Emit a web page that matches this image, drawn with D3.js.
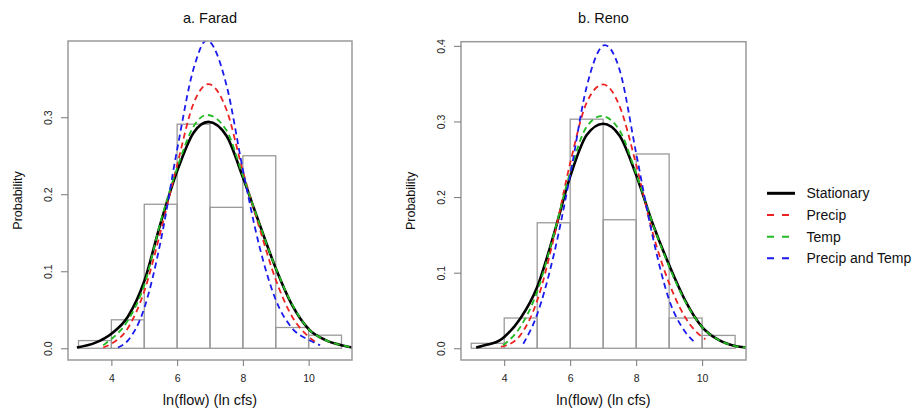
<!DOCTYPE html>
<html>
<head>
<meta charset="utf-8">
<script src="https://cdn.jsdelivr.net/npm/d3@7"></script>
<style>
  html, body { margin: 0; padding: 0; background: #fff; }
  svg { display: block; font-family: "Liberation Sans", Arial, Helvetica, sans-serif; }
</style>
</head>
<body>
<svg id="chart" width="918" height="410"></svg>
<script>
// ---------------- DATA ----------------
const binEdges = [3, 4, 5, 6, 7, 8, 9, 10, 11];
const xTicks = [4, 6, 8, 10];
const yTicksFarad = [0, 0.1, 0.2, 0.3];
const yTicksReno = [0, 0.1, 0.2, 0.3, 0.4];

const faradHist = [0.010, 0.037, 0.187, 0.291, 0.183, 0.250, 0.027, 0.017];
const renoHist  = [0.0066, 0.040, 0.166, 0.303, 0.170, 0.257, 0.040, 0.017];

// Farad curves (x, density)
const faradStationaryX = [2.95, 3.5, 4, 4.5, 5, 5.5, 6, 6.5, 6.95, 7.5, 8, 8.5, 9, 9.5, 10, 10.5, 11, 11.32];
const faradStationaryY = [0.001, 0.007, 0.019, 0.041, 0.087, 0.163, 0.230, 0.280, 0.294, 0.276, 0.222, 0.162, 0.104, 0.056, 0.025, 0.011, 0.004, 0.001];
const faradPrecipX = [3.75, 4, 4.5, 5, 5.5, 6, 6.5, 6.95, 7.5, 8, 8.5, 9, 9.5, 10, 10.25];
const faradPrecipY = [0.001, 0.006, 0.026, 0.074, 0.152, 0.238, 0.318, 0.343, 0.310, 0.230, 0.157, 0.089, 0.041, 0.015, 0.007];
const faradTempX = [3.75, 4, 4.5, 5, 5.5, 6, 6.5, 6.9, 7.5, 8, 8.5, 9, 9.5, 10, 10.5, 11, 11.32];
const faradTempY = [0.004, 0.012, 0.036, 0.082, 0.165, 0.234, 0.288, 0.303, 0.283, 0.224, 0.162, 0.104, 0.057, 0.025, 0.011, 0.004, 0.001];
const faradBothX = [4.2, 4.5, 5, 5.5, 6, 6.5, 6.9, 7.5, 8, 8.5, 9, 9.5, 10, 10.35];
const faradBothY = [0.001, 0.010, 0.052, 0.139, 0.258, 0.363, 0.400, 0.342, 0.232, 0.133, 0.063, 0.026, 0.011, 0.004];

// Reno curves
const renoStationaryX = [3.15, 3.5, 3.85, 4, 4.5, 5, 5.5, 6, 6.5, 7, 7.5, 8, 8.5, 9, 9.5, 10, 10.5, 11, 11.33];
const renoStationaryY = [0.001, 0.005, 0.010, 0.015, 0.040, 0.081, 0.150, 0.227, 0.282, 0.297, 0.281, 0.229, 0.165, 0.110, 0.062, 0.028, 0.011, 0.003, 0.001];
const renoPrecipX = [3.9, 4, 4.5, 5, 5.5, 6, 6.5, 7, 7.5, 8, 8.5, 9, 9.5, 10, 10.1];
const renoPrecipY = [0.002, 0.003, 0.018, 0.063, 0.145, 0.245, 0.325, 0.349, 0.320, 0.243, 0.153, 0.086, 0.040, 0.015, 0.012];
const renoTempX = [3.97, 4.5, 5, 5.5, 6, 6.5, 6.95, 7.5, 8, 8.5, 9, 9.5, 10, 10.5, 11, 11.33];
const renoTempY = [0.004, 0.029, 0.075, 0.150, 0.233, 0.293, 0.307, 0.288, 0.231, 0.165, 0.108, 0.061, 0.028, 0.011, 0.003, 0.001];
const renoBothX = [4.58, 5, 5.5, 6, 6.5, 7.05, 7.5, 8, 8.5, 9, 9.5, 9.8];
const renoBothY = [0.006, 0.045, 0.123, 0.229, 0.346, 0.401, 0.368, 0.258, 0.148, 0.064, 0.021, 0.007];

const seriesNames = ["Stationary", "Precip", "Temp", "Precip and Temp"];
const seriesColors = ["#000000", "#ee2222", "#22bb22", "#1a1aee"];

// ---------------- DRAW ----------------
const svg = d3.select("#chart");

const panels = [
  { id: "a", title: "a. Farad", box: [68, 352, 41, 360], xDom: [2.68, 11.32], yDom: [-0.0152, 0.399],
    yTicks: yTicksFarad, hist: faradHist,
    curves: [[faradStationaryX, faradStationaryY], [faradPrecipX, faradPrecipY], [faradTempX, faradTempY], [faradBothX, faradBothY]] },
  { id: "b", title: "b. Reno", box: [461, 746, 41.7, 360], xDom: [2.69, 11.33], yDom: [-0.0155, 0.4055],
    yTicks: yTicksReno, hist: renoHist,
    curves: [[renoStationaryX, renoStationaryY], [renoPrecipX, renoPrecipY], [renoTempX, renoTempY], [renoBothX, renoBothY]] }
];

const gray = "#9a9a9a";

panels.forEach(p => {
  const [L, R, T, B] = p.box;
  const x = d3.scaleLinear().domain(p.xDom).range([L, R]);
  const y = d3.scaleLinear().domain(p.yDom).range([B, T]);

  const clipId = "clip-" + p.id;
  svg.append("clipPath").attr("id", clipId)
    .append("rect").attr("x", L).attr("y", T).attr("width", R - L).attr("height", B - T);

  const g = svg.append("g");

  // histogram bars
  g.append("g").selectAll("rect")
    .data(p.hist)
    .join("rect")
    .attr("x", (d, i) => x(binEdges[i]))
    .attr("width", (d, i) => x(binEdges[i + 1]) - x(binEdges[i]))
    .attr("y", d => y(d))
    .attr("height", d => y(0) - y(d))
    .attr("fill", "none")
    .attr("stroke", gray)
    .attr("stroke-width", 1.3);

  // curves
  const line = d3.line().x(d => x(d[0])).y(d => y(d[1])).curve(d3.curveMonotoneX);
  const cg = g.append("g").attr("clip-path", `url(#${clipId})`);
  p.curves.forEach((c, i) => {
    cg.append("path")
      .datum(d3.zip(c[0], c[1]))
      .attr("d", line)
      .attr("fill", "none")
      .attr("stroke", seriesColors[i])
      .attr("stroke-width", i === 0 ? 2.6 : 1.8)
      .attr("stroke-dasharray", i === 0 ? null : "6,4");
  });

  // box
  g.append("rect").attr("x", L).attr("y", T).attr("width", R - L).attr("height", B - T)
    .attr("fill", "none").attr("stroke", gray).attr("stroke-width", 1.5);

  // x axis
  const xAxis = g.append("g").attr("transform", `translate(0,${B})`)
    .call(d3.axisBottom(x).tickValues(xTicks).tickSize(6).tickPadding(6).tickFormat(d3.format("d")));
  xAxis.select(".domain").remove();
  xAxis.selectAll(".tick line").attr("stroke", "#777");
  xAxis.selectAll(".tick text").attr("font-size", "10.5px").attr("fill", "#222")
    .attr("font-family", "Liberation Sans, Arial, sans-serif")
    .attr("dy", null).attr("y", 21.5);

  // y axis
  const yAxis = g.append("g").attr("transform", `translate(${L},0)`)
    .call(d3.axisLeft(y).tickValues(p.yTicks).tickSize(7).tickFormat(d3.format(".1f")));
  yAxis.select(".domain").remove();
  yAxis.selectAll(".tick line").attr("stroke", "#777");
  yAxis.selectAll(".tick text")
    .attr("font-size", "10.5px").attr("fill", "#222")
    .attr("font-family", "Liberation Sans, Arial, sans-serif")
    .attr("transform", "rotate(-90)")
    .attr("x", 0).attr("y", -20).attr("dy", null)
    .attr("text-anchor", "middle")
    .attr("dominant-baseline", "central");

  // title
  g.append("text").attr("x", (L + R) / 2).attr("y", 22.7)
    .attr("text-anchor", "middle").attr("font-size", "14.5px").attr("fill", "#111")
    .text(p.title);

  // x label
  g.append("text").attr("x", (L + R) / 2).attr("y", 405)
    .attr("text-anchor", "middle").attr("font-size", "14.5px").attr("fill", "#111")
    .text("ln(flow) (ln cfs)");

  // y label
  g.append("text")
    .attr("transform", `translate(${L - 50},${(T + B) / 2}) rotate(-90)`)
    .attr("text-anchor", "middle").attr("dominant-baseline", "central")
    .attr("font-size", "12.5px").attr("fill", "#111")
    .text("Probability");
});

// legend
const legendY = [193.3, 215, 236.7, 258.3];
const lg = svg.append("g");
seriesNames.forEach((name, i) => {
  lg.append("line")
    .attr("x1", 767).attr("x2", 795)
    .attr("y1", legendY[i]).attr("y2", legendY[i])
    .attr("stroke", seriesColors[i])
    .attr("stroke-width", i === 0 ? 3 : 2)
    .attr("stroke-dasharray", i === 0 ? null : "7,8");
  lg.append("text")
    .attr("x", 806.5).attr("y", legendY[i])
    .attr("dominant-baseline", "central")
    .attr("font-size", "14px").attr("fill", "#111")
    .text(name);
});
</script>
</body>
</html>
